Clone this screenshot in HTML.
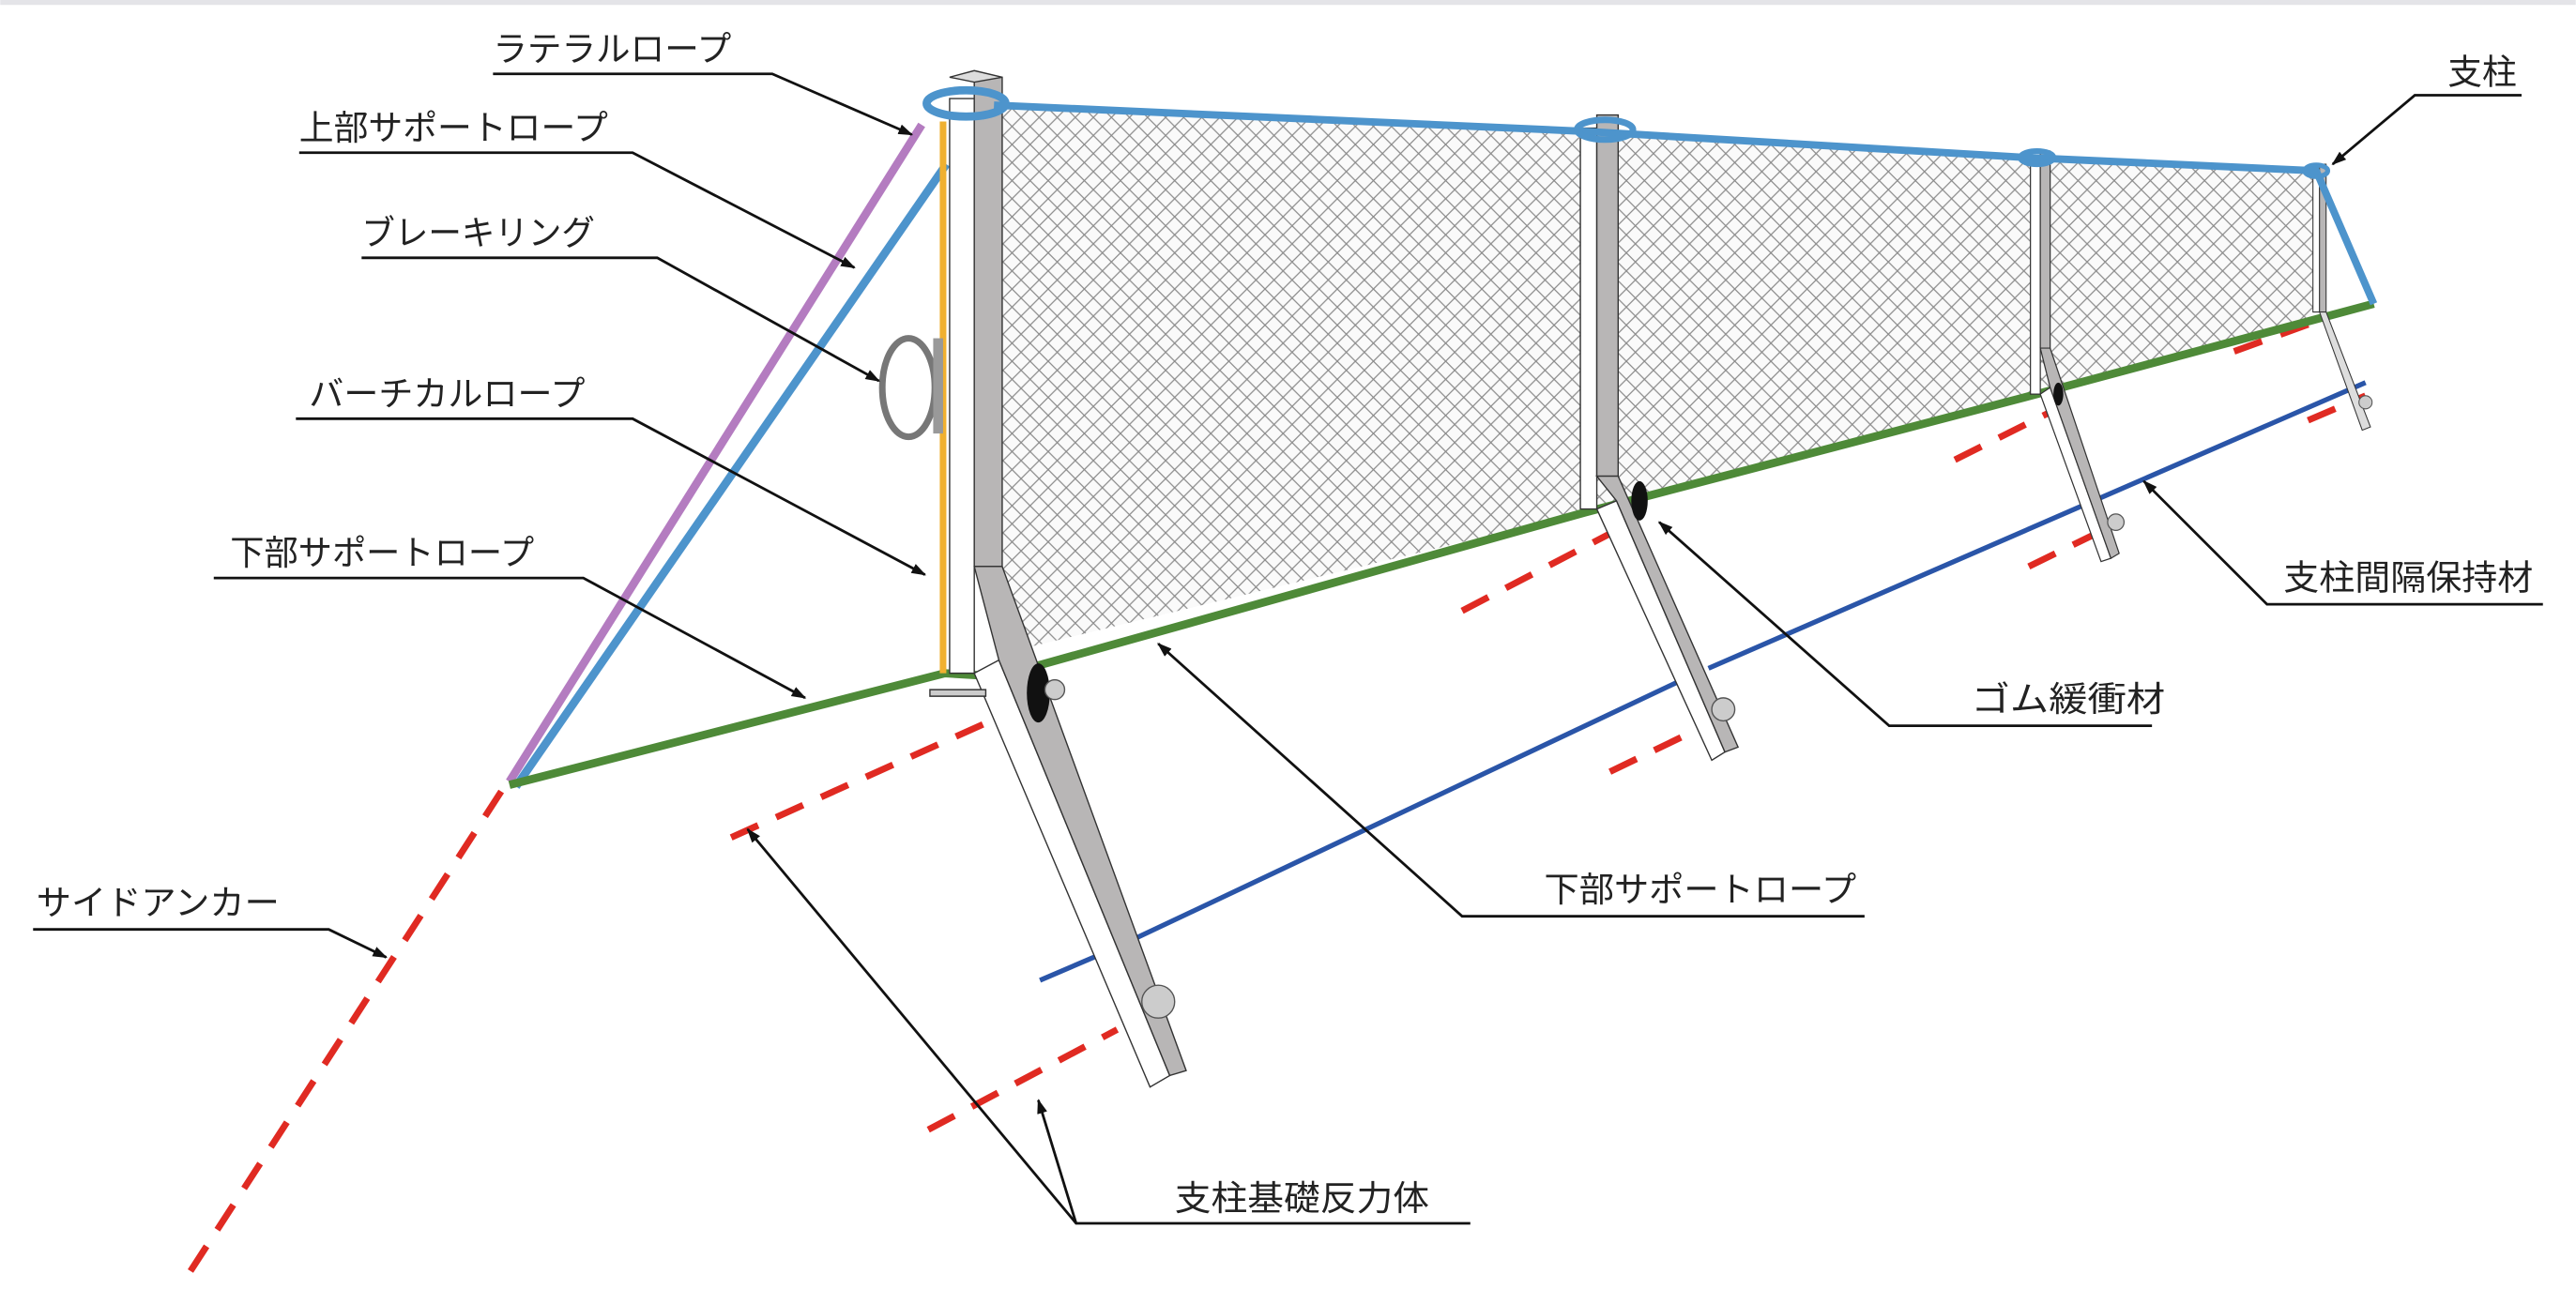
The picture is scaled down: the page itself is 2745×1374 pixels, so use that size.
<!DOCTYPE html>
<html><head><meta charset="utf-8"><style>
html,body{margin:0;padding:0;background:#fff;}
svg{display:block;}
text{font-family:"Liberation Sans","Noto Sans CJK JP",sans-serif;font-size:21px;fill:#222;}
</style></head><body>
<svg width="2745" height="1374" viewBox="0 0 1568 785" xmlns="http://www.w3.org/2000/svg">
<defs>
<pattern id="mesh" width="11" height="11" patternUnits="userSpaceOnUse">
<rect width="11" height="11" fill="#fafafa"/>
<path d="M0 0L11 11M11 0L0 11" stroke="#8a8a8a" stroke-width="0.7"/>
</pattern>
<marker id="ar" viewBox="0 0 10 10" refX="9" refY="5" markerWidth="9" markerHeight="9" orient="auto-start-reverse" markerUnits="userSpaceOnUse">
<path d="M0 1.5L10 5L0 8.5z" fill="#111"/>
</marker>
</defs>
<rect x="0" y="0" width="1568" height="3" fill="#e4e4e8"/>
<polygon points="610,64 965,80 1235,96 1410,104 1410,192 1240,240 965,312 610,398" fill="url(#mesh)"/>
<g stroke="#e02a22" stroke-width="4" stroke-dasharray="18,12" fill="none">
<line x1="305" y1="482" x2="112" y2="780"/>
<line x1="445" y1="510" x2="612" y2="435"/>
<line x1="565" y1="688" x2="680" y2="627"/>
<line x1="890" y1="372" x2="980" y2="325"/>
<line x1="980" y1="470" x2="1042" y2="440"/>
<line x1="1190" y1="280" x2="1250" y2="250"/>
<line x1="1235" y1="345" x2="1282" y2="322"/>
<line x1="1360" y1="214" x2="1415" y2="194"/>
<line x1="1405" y1="256" x2="1440" y2="241"/>
</g>
<polyline points="633,597 668,582" stroke="#2a55a8" stroke-width="3" fill="none"/>
<polyline points="690,572 1022,415" stroke="#2a55a8" stroke-width="3" fill="none"/>
<polyline points="1040,407 1440,233" stroke="#2a55a8" stroke-width="3" fill="none"/>
<line x1="310" y1="476" x2="561" y2="76" stroke="#b47cc0" stroke-width="5"/>
<line x1="314" y1="479" x2="576" y2="100" stroke="#4d94cc" stroke-width="5"/>
<polyline points="310,478 575,410 608,412 965,312 1240,240 1445,185" stroke="#4e8a38" stroke-width="5" fill="none"/>
<line x1="574" y1="74" x2="574" y2="410" stroke="#f0b030" stroke-width="4"/>
<ellipse cx="553" cy="236" rx="16" ry="30" fill="none" stroke="#777" stroke-width="4"/>
<rect x="568" y="206" width="6" height="58" fill="#999"/>
<g stroke="#333" stroke-width="0.8">
<polygon points="578,410 593,410 593,60 578,60" fill="#fff"/>
<polygon points="593,47 610,47 610,345 593,345" fill="#b8b6b6"/>
<polygon points="578,47 593,43 610,47 593,50" fill="#ddd"/>
<polygon points="593,410 608,402 712,655 700,662" fill="#fff"/>
<polygon points="593,345 610,345 722,652 712,655 608,402" fill="#b8b6b6"/>
<polygon points="566,420 600,420 600,424 566,424" fill="#ccc"/>
</g>
<ellipse cx="632" cy="422" rx="7" ry="18" fill="#111"/>
<circle cx="642" cy="420" r="6" fill="#ccc" stroke="#555" stroke-width="0.8"/>
<circle cx="705" cy="610" r="10" fill="#ccc" stroke="#555" stroke-width="0.8"/>
<g stroke="#333" stroke-width="0.8">
<polygon points="962,310 972,310 972,78 962,78" fill="#fff"/>
<polygon points="972,70 985,70 985,290 972,290" fill="#b8b6b6"/>
<polygon points="972,310 984,305 1050,458 1042,463" fill="#fff"/>
<polygon points="972,290 985,290 1058,455 1050,458 984,305" fill="#b8b6b6"/>
</g>
<ellipse cx="998" cy="305" rx="5" ry="12" fill="#111"/>
<circle cx="1049" cy="432" r="7" fill="#ccc" stroke="#555" stroke-width="0.8"/>
<g stroke="#333" stroke-width="0.7">
<polygon points="1236,240 1242,240 1242,96 1236,96" fill="#fff"/>
<polygon points="1242,92 1248,92 1248,212 1242,212" fill="#b8b6b6"/>
<polygon points="1242,240 1248,236 1285,340 1279,342" fill="#fff"/>
<polygon points="1242,212 1248,212 1290,337 1285,340 1248,236" fill="#b8b6b6"/>
</g>
<ellipse cx="1253" cy="240" rx="3" ry="7" fill="#111"/>
<circle cx="1288" cy="318" r="5" fill="#ccc" stroke="#555" stroke-width="0.7"/>
<g stroke="#333" stroke-width="0.6">
<polygon points="1408,190 1412,190 1412,104 1408,104" fill="#fff"/>
<polygon points="1412,100 1416,100 1416,190 1412,190" fill="#b8b6b6"/>
<polygon points="1412,190 1416,190 1443,260 1438,262" fill="#ddd"/>
</g>
<circle cx="1440" cy="245" r="4" fill="#ccc" stroke="#555" stroke-width="0.6"/>
<polyline points="605,64 965,80 1235,96 1410,104 1445,185" stroke="#4d94cc" stroke-width="4.5" fill="none"/>
<ellipse cx="588" cy="63" rx="24" ry="8" fill="none" stroke="#4d94cc" stroke-width="5"/>
<ellipse cx="977" cy="79" rx="17" ry="6" fill="none" stroke="#4d94cc" stroke-width="4"/>
<ellipse cx="1240" cy="96" rx="10" ry="4" fill="none" stroke="#4d94cc" stroke-width="3.5"/>
<ellipse cx="1410" cy="104" rx="7" ry="3.5" fill="none" stroke="#4d94cc" stroke-width="3"/>
<g stroke="#111" stroke-width="1.6" fill="none">
<polyline points="300,45 470,45 555,82" marker-end="url(#ar)"/>
<polyline points="182,93 385,93 520,163" marker-end="url(#ar)"/>
<polyline points="220,157 400,157 535,232" marker-end="url(#ar)"/>
<polyline points="180,255 385,255 563,350" marker-end="url(#ar)"/>
<polyline points="130,352 355,352 490,425" marker-end="url(#ar)"/>
<polyline points="20,566 200,566 235,583" marker-end="url(#ar)"/>
<polyline points="1135,558 890,558 705,392" marker-end="url(#ar)"/>
<polyline points="895,745 655,745 455,505" marker-end="url(#ar)"/>
<polyline points="655,745 632,670" marker-end="url(#ar)"/>
<polyline points="1310,442 1150,442 1010,318" marker-end="url(#ar)"/>
<polyline points="1548,368 1380,368 1305,293" marker-end="url(#ar)"/>
<polyline points="1535,58 1470,58 1420,100" marker-end="url(#ar)"/>
</g>
<text x="300" y="37" textLength="145" lengthAdjust="spacingAndGlyphs">ラテラルロープ</text>
<text x="182" y="85" textLength="188" lengthAdjust="spacingAndGlyphs">上部サポートロープ</text>
<text x="220" y="149" textLength="142" lengthAdjust="spacingAndGlyphs">ブレーキリング</text>
<text x="188" y="247" textLength="168" lengthAdjust="spacingAndGlyphs">バーチカルロープ</text>
<text x="140" y="344" textLength="185" lengthAdjust="spacingAndGlyphs">下部サポートロープ</text>
<text x="22" y="557" textLength="148" lengthAdjust="spacingAndGlyphs">サイドアンカー</text>
<text x="940" y="549" textLength="190" lengthAdjust="spacingAndGlyphs">下部サポートロープ</text>
<text x="715" y="737" textLength="155" lengthAdjust="spacingAndGlyphs">支柱基礎反力体</text>
<text x="1200" y="433" textLength="118" lengthAdjust="spacingAndGlyphs">ゴム緩衝材</text>
<text x="1390" y="359" textLength="152" lengthAdjust="spacingAndGlyphs">支柱間隔保持材</text>
<text x="1490" y="51" textLength="42" lengthAdjust="spacingAndGlyphs">支柱</text>
</svg>
</body></html>
